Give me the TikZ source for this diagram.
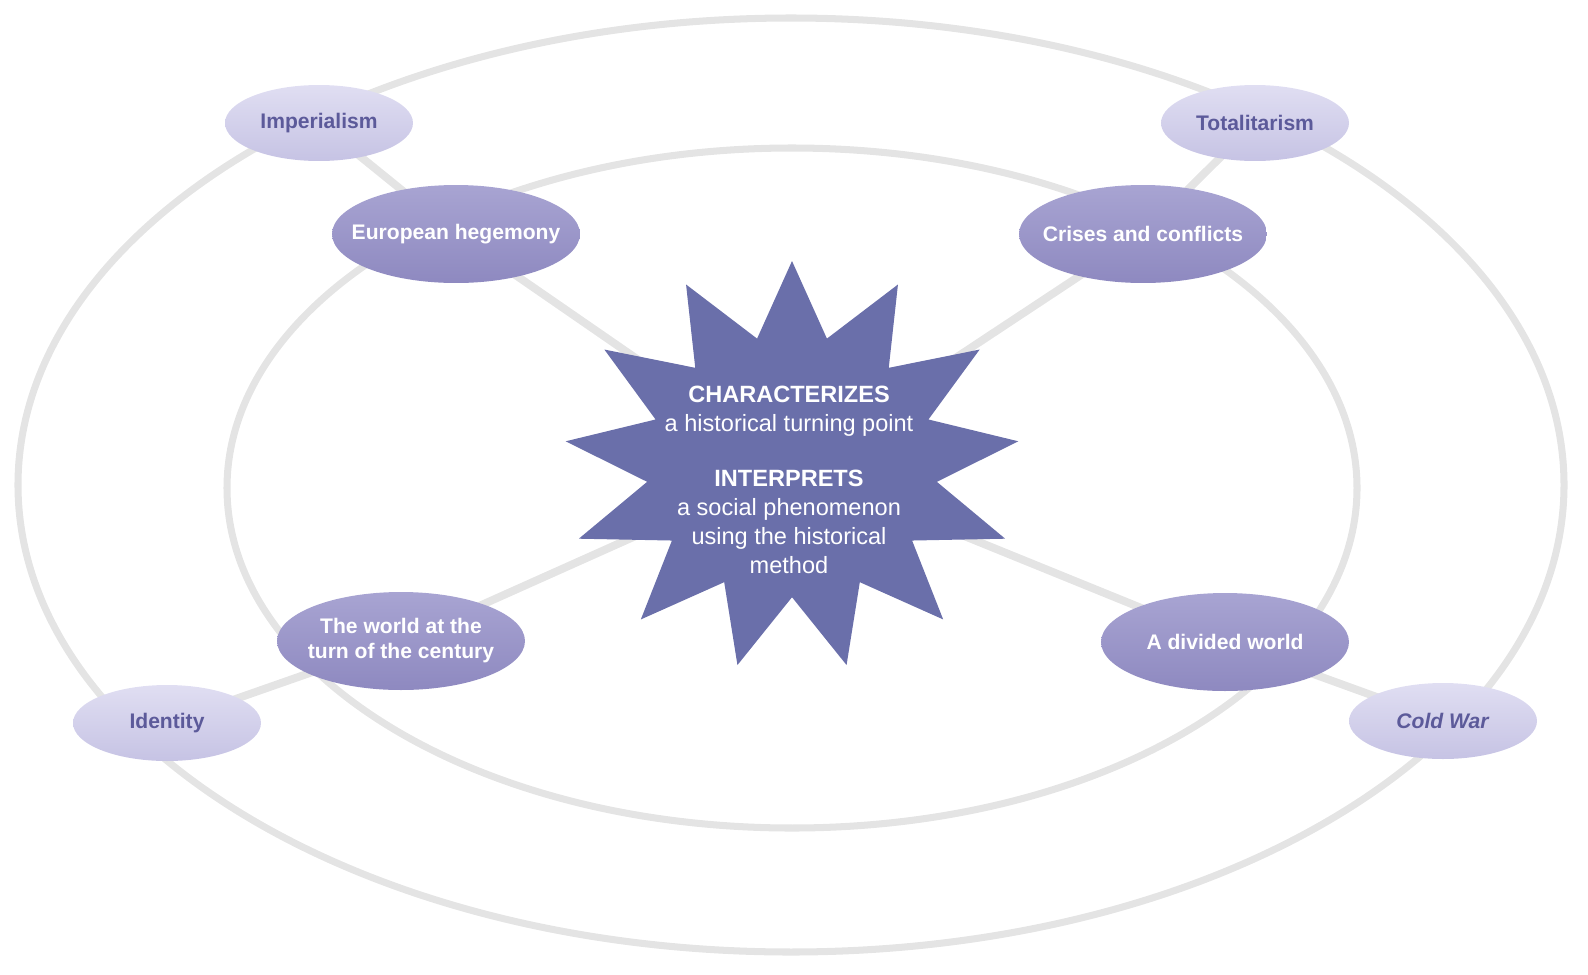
\documentclass[tikz,border=0pt]{standalone}
\usepackage{fontspec}
\setmainfont{Liberation Sans}
\usetikzlibrary{shapes.geometric}
\usetikzlibrary{backgrounds}

\definecolor{ringgray}{RGB}{228,228,228}
\definecolor{outerfill}{RGB}{214,212,236}
\definecolor{outerlight}{RGB}{224,222,242}
\definecolor{outerdark}{RGB}{198,195,228}
\definecolor{outertext}{RGB}{92,90,154}
\definecolor{innerfill}{RGB}{160,156,204}
\definecolor{innerlight}{RGB}{168,164,210}
\definecolor{innerdark}{RGB}{142,137,192}
\definecolor{starfill}{RGB}{106,111,170}

\tikzset{
  outerbubble/.style={ellipse, minimum width=3.76cm, minimum height=1.52cm, inner xsep=-3cm, inner ysep=-1cm,
    top color=outerlight, middle color=outerfill, bottom color=outerdark,
    text=outertext, font=\fontsize{12}{14}\selectfont\bfseries},
  innerbubble/.style={ellipse, minimum width=4.96cm, minimum height=1.96cm, inner xsep=-3cm, inner ysep=-1cm,
    top color=innerlight, middle color=innerfill, bottom color=innerdark,
    text=white, align=center, font=\fontsize{12}{14.2}\selectfont\bfseries},
  ring/.style={ringgray, line width=4pt},
  spoke/.style={ringgray, line width=4.5pt}
}

\begin{document}
\begin{tikzpicture}[x=0.02cm, y=-0.02cm]
        \useasboundingbox (0,0) rectangle (1588,974);
        \coordinate (hub) at (792,466);
        \fill[starfill] plot[samples=27, domain=0:26, variable=\k]
          ({792+228*(1-0.36*mod(\k,2))*cos(90-\k*180/13)}, {466-205*(1-0.36*mod(\k,2))*sin(90-\k*180/13)}) -- cycle;
        \node[text=white, align=center, font=\fontsize{13.4}{16.5}\selectfont] (core) at (789,480)
          {\textbf{CHARACTERIZES}\\a historical turning point\\[15pt]\textbf{INTERPRETS}\\a social phenomenon\\using the historical\\method};
        \node[innerbubble] (euro) at (456,234) {European hegemony};
        \node[innerbubble] (crises) at (1143,234) {Crises and conflicts};
        \node[innerbubble] (turn) at (401,641) {The world at the\\turn of the century};
        \node[innerbubble] (divided) at (1225,642) {A divided world};
        \node[outerbubble] (imp) at (319,123) {Imperialism};
        \node[outerbubble] (total) at (1255,123) {Totalitarism};
        \node[outerbubble] (ident) at (167,723) {Identity};
        \node[outerbubble] (cold) at (1443,721) {\textit{Cold War}};
        \begin{scope}[on background layer]
          \draw[ring] (791,485) ellipse [x radius=773, y radius=467];
          \draw[ring] (792,488) ellipse [x radius=565, y radius=340];
          \draw[spoke] (hub) -- (euro.center) -- (imp.center);
          \draw[spoke] (hub) -- (crises.center) -- (total.center);
          \draw[spoke] (hub) -- (turn.center) -- (ident.center);
          \draw[spoke] (hub) -- (divided.center) -- (cold.center);
        \end{scope}
\end{tikzpicture}
\end{document}
